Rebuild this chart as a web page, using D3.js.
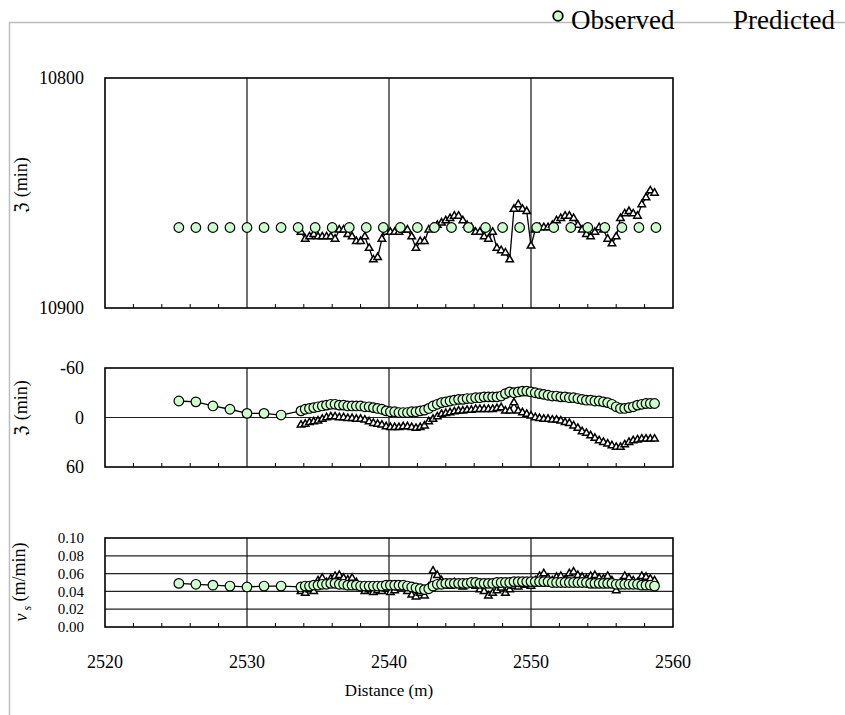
<!DOCTYPE html>
<html>
<head>
<meta charset="utf-8">
<script src="https://cdn.jsdelivr.net/npm/d3@7/dist/d3.min.js"></script>
<style>
  body { margin: 0; background: #fff; }
  svg text { font-family: "Liberation Serif", "Times New Roman", "DejaVu Serif", serif; fill: #000; }
</style>
</head>
<body>
<div class="container"></div>
<script>
// distances where the observed value was sampled sparsely (m)
var obsSparseX = [2525.2, 2526.4, 2527.6, 2528.8, 2530.0, 2531.2, 2532.4];
// panel 1 observed, sparse all the way along
var obs1X = [2525.2, 2526.4, 2527.6, 2528.8, 2530.0, 2531.2, 2532.4, 2533.6, 2534.8, 2536.0,
  2537.2, 2538.4, 2539.6, 2540.8, 2542.0, 2543.2, 2544.4, 2545.6, 2546.8, 2548.0,
  2549.2, 2550.4, 2551.6, 2552.8, 2554.0, 2555.2, 2556.4, 2557.6, 2558.8];
var obs1 = [10865, 10865, 10865, 10865, 10865, 10865, 10865, 10865, 10865, 10865,
  10865, 10865, 10865, 10865, 10865, 10865, 10865, 10865, 10865, 10865,
  10865, 10865, 10865, 10865, 10865, 10865, 10865, 10865, 10865];

// dense distances (m)
var denseX = [2533.8, 2534.1, 2534.4, 2534.7, 2535.0, 2535.3, 2535.6, 2535.9, 2536.2, 2536.5,
  2536.8, 2537.1, 2537.4, 2537.7, 2538.0, 2538.3, 2538.6, 2538.9, 2539.2, 2539.5,
  2539.8, 2540.1, 2540.4, 2540.7, 2541.0, 2541.3, 2541.6, 2541.9, 2542.2, 2542.5,
  2542.8, 2543.1, 2543.4, 2543.7, 2544.0, 2544.3, 2544.6, 2544.9, 2545.2, 2545.5,
  2545.8, 2546.1, 2546.4, 2546.7, 2547.0, 2547.3, 2547.6, 2547.9, 2548.2, 2548.5,
  2548.8, 2549.1, 2549.4, 2549.7, 2550.0, 2550.3, 2550.6, 2550.9, 2551.2, 2551.5,
  2551.8, 2552.1, 2552.4, 2552.7, 2553.0, 2553.3, 2553.6, 2553.9, 2554.2, 2554.5,
  2554.8, 2555.1, 2555.4, 2555.7, 2556.0, 2556.3, 2556.6, 2556.9, 2557.2, 2557.5,
  2557.8, 2558.1, 2558.4, 2558.7];

// panel 1 predicted (min)
var pred1 = [10867, 10870, 10869, 10868, 10869, 10869, 10869, 10869, 10870, 10866,
  10866, 10868, 10869, 10871, 10871, 10869, 10874, 10879, 10878, 10870,
  10867, 10867, 10867, 10867, 10866, 10866, 10869, 10874, 10871, 10871,
  10866, 10865, 10864, 10863, 10862, 10861, 10860, 10860, 10862, 10864,
  10865, 10867, 10867, 10869, 10870, 10867, 10874, 10875, 10876, 10879,
  10857, 10855, 10857, 10858, 10873, 10866, 10865, 10865, 10865, 10864,
  10862, 10861, 10860, 10860, 10861, 10864, 10866, 10868, 10869, 10867,
  10865, 10866, 10870, 10872, 10869, 10861, 10859, 10858, 10859, 10860,
  10855, 10852, 10849, 10850];

// panel 2 (min)
var obs2Sparse = [-20, -19, -14, -10, -5, -5, -3];
var obs2 = [-8, -10, -11, -12, -13, -14, -15, -16, -16, -15,
  -15, -14, -14, -14, -14, -13, -13, -12, -11, -10,
  -8, -7, -7, -6, -6, -6, -7, -7, -8, -9,
  -11, -14, -16, -18, -19, -20, -21, -22, -22, -23,
  -23, -24, -24, -25, -25, -25, -25, -26, -29, -31,
  -30, -31, -32, -32, -31, -30, -29, -28, -27, -26,
  -26, -25, -25, -24, -24, -23, -22, -21, -21, -20,
  -20, -19, -18, -16, -13, -11, -11, -12, -13, -15,
  -16, -17, -17, -17];
var pred2 = [9, 8, 6, 5, 4, 2, 0, -1, -1, 0,
  0, 1, 1, 2, 2, 3, 5, 7, 8, 9,
  11, 12, 12, 12, 11, 11, 12, 13, 12, 10,
  5, 2, -1, -4, -5, -6, -7, -8, -8, -9,
  -9, -10, -10, -10, -10, -10, -11, -12, -8, -8,
  -18, -8, -6, -4, -2, 0, 1, 2, 2, 3,
  3, 4, 6, 7, 10, 13, 17, 19, 22, 25,
  28, 30, 32, 34, 36, 36, 33, 30, 28, 27,
  26, 26, 26, 26];

// panel 3 (m/min)
var obs3Sparse = [0.049, 0.048, 0.047, 0.046, 0.045, 0.046, 0.046];
var obs3 = [0.045, 0.046, 0.046, 0.047, 0.047, 0.048, 0.048, 0.049, 0.049, 0.048,
  0.048, 0.047, 0.047, 0.047, 0.046, 0.046, 0.046, 0.046, 0.046, 0.046,
  0.047, 0.047, 0.047, 0.047, 0.047, 0.046, 0.045, 0.044, 0.043, 0.042,
  0.043, 0.046, 0.048, 0.048, 0.049, 0.049, 0.049, 0.049, 0.049, 0.049,
  0.050, 0.050, 0.049, 0.049, 0.049, 0.049, 0.050, 0.050, 0.050, 0.050,
  0.051, 0.051, 0.051, 0.051, 0.051, 0.051, 0.051, 0.051, 0.051, 0.050,
  0.050, 0.050, 0.050, 0.050, 0.050, 0.050, 0.050, 0.050, 0.049, 0.049,
  0.049, 0.049, 0.049, 0.049, 0.048, 0.048, 0.048, 0.048, 0.048, 0.048,
  0.047, 0.047, 0.047, 0.046];
var pred3 = [0.040, 0.038, 0.042, 0.040, 0.052, 0.055, 0.050, 0.054, 0.057, 0.058,
  0.055, 0.053, 0.055, 0.050, 0.045, 0.040, 0.042, 0.039, 0.041, 0.040,
  0.043, 0.039, 0.041, 0.044, 0.046, 0.040, 0.036, 0.034, 0.038, 0.035,
  0.045, 0.063, 0.058, 0.052, 0.048, 0.046, 0.050, 0.047, 0.045, 0.048,
  0.050, 0.046, 0.042, 0.040, 0.035, 0.038, 0.041, 0.044, 0.038, 0.042,
  0.046, 0.045, 0.048, 0.047, 0.046, 0.052, 0.057, 0.060, 0.055, 0.052,
  0.056, 0.057, 0.053, 0.060, 0.062, 0.058, 0.056, 0.054, 0.057, 0.058,
  0.055, 0.054, 0.057, 0.052, 0.041, 0.050, 0.057, 0.055, 0.052, 0.050,
  0.057, 0.056, 0.054, 0.052];

var xTicks = [2520, 2530, 2540, 2550, 2560];
var xMinorTicks = [2522, 2524, 2526, 2528, 2532, 2534, 2536, 2538, 2542, 2544,
  2546, 2548, 2552, 2554, 2556, 2558];
var y1Ticks = [10800, 10900];
var y2Ticks = [-60, 0, 60];
var y3Ticks = [0, 0.02, 0.04, 0.06, 0.08, 0.10];

const WIDTH = 845, HEIGHT = 715;
const PLOT_LEFT = 105, PLOT_RIGHT = 673;
const GREEN = "#ccffcc";
const FONT = '"Liberation Serif", "Times New Roman", "DejaVu Serif", serif';

var svg = d3.select(".container").append("svg")
  .attr("width", WIDTH)
  .attr("height", HEIGHT)
  .attr("font-family", FONT);

// outer (chart area) frame
svg.append("path")
  .attr("d", "M9.5," + HEIGHT + "V22.5H" + WIDTH)
  .attr("fill", "none")
  .attr("stroke", "#bdbdbd")
  .attr("stroke-width", 1.5);

var xScale = d3.scaleLinear().domain([2520, 2560]).range([PLOT_LEFT, PLOT_RIGHT]);

var tri = d3.symbol().type(d3.symbolTriangle).size(24);

var zip = function (xs, ys) {
  return xs.map(function (x, i) { return [x, ys[i]]; });
};

var drawPanel = function (opt) {
  var y = d3.scaleLinear().domain(opt.domain).range([opt.top, opt.bottom]);
  var g = svg.append("g");

  // horizontal grid lines
  g.selectAll(".hgrid").data(opt.hGrid).enter().append("line")
    .attr("x1", PLOT_LEFT).attr("x2", PLOT_RIGHT)
    .attr("y1", function (d) { return y(d); })
    .attr("y2", function (d) { return y(d); })
    .attr("stroke", "#222").attr("stroke-width", 1.2);

  // vertical grid lines
  g.selectAll(".vgrid").data([2530, 2540, 2550]).enter().append("line")
    .attr("x1", function (d) { return xScale(d); })
    .attr("x2", function (d) { return xScale(d); })
    .attr("y1", opt.top).attr("y2", opt.bottom)
    .attr("stroke", "#111").attr("stroke-width", 1.2);

  // minor ticks, pointing up from the bottom edge
  g.selectAll(".mtick").data(xMinorTicks).enter().append("line")
    .attr("x1", function (d) { return xScale(d); })
    .attr("x2", function (d) { return xScale(d); })
    .attr("y1", opt.bottom).attr("y2", opt.bottom - 4)
    .attr("stroke", "#000").attr("stroke-width", 1);

  // plot frame
  g.append("rect")
    .attr("x", PLOT_LEFT).attr("y", opt.top)
    .attr("width", PLOT_RIGHT - PLOT_LEFT).attr("height", opt.bottom - opt.top)
    .attr("fill", "none").attr("stroke", "#000").attr("stroke-width", 1.6);

  // y tick labels
  g.selectAll(".ylab").data(opt.ticks).enter().append("text")
    .attr("x", 84)
    .attr("y", function (d) { return y(d); })
    .attr("dy", "0.35em")
    .attr("text-anchor", "end")
    .style("font-size", opt.tickSize)
    .text(opt.format);

  // y axis title
  var title = g.append("text")
    .attr("transform", "translate(" + opt.titleX + "," + opt.titleY + ") rotate(-90)")
    .attr("text-anchor", "middle")
    .style("font-size", "18px");
  opt.title(title);

  var line = d3.line()
    .x(function (d) { return xScale(d[0]); })
    .y(function (d) { return y(d[1]); });

  // predicted
  var pred = zip(denseX, opt.pred);
  g.append("path").datum(pred)
    .attr("d", line)
    .attr("fill", "none").attr("stroke", "#000").attr("stroke-width", 1.3);
  g.selectAll(".pred").data(pred).enter().append("path")
    .attr("d", tri)
    .attr("transform", function (d) { return "translate(" + xScale(d[0]) + "," + y(d[1]) + ")"; })
    .attr("fill", "#fff").attr("stroke", "#000").attr("stroke-width", 1.5);

  // observed
  if (opt.obsLine) {
    g.append("path").datum(opt.obs)
      .attr("d", line)
      .attr("fill", "none").attr("stroke", "#000").attr("stroke-width", 1.3);
  }
  g.selectAll(".obs").data(opt.obs).enter().append("circle")
    .attr("cx", function (d) { return xScale(d[0]); })
    .attr("cy", function (d) { return y(d[1]); })
    .attr("r", 4.8)
    .attr("fill", GREEN).attr("stroke", "#000").attr("stroke-width", 1.2);
};

drawPanel({
  top: 78, bottom: 308, domain: [10800, 10900], ticks: y1Ticks, hGrid: [],
  format: function (d) { return d; }, tickSize: "18px",
  pred: pred1, obs: zip(obs1X, obs1), obsLine: false,
  titleX: 27, titleY: 185,
  title: function (t) { t.text("ℨ (min)"); }
});

drawPanel({
  top: 368, bottom: 467, domain: [-60, 60], ticks: y2Ticks, hGrid: [0],
  format: function (d) { return d; }, tickSize: "18px",
  pred: pred2, obs: zip(obsSparseX, obs2Sparse).concat(zip(denseX, obs2)), obsLine: true,
  titleX: 27, titleY: 408,
  title: function (t) { t.text("ℨ (min)"); }
});

drawPanel({
  top: 538, bottom: 627, domain: [0.10, 0], ticks: y3Ticks, hGrid: [0.02, 0.04, 0.06, 0.08],
  format: d3.format(".2f"), tickSize: "15px",
  pred: pred3, obs: zip(obsSparseX, obs3Sparse).concat(zip(denseX, obs3)), obsLine: true,
  titleX: 27, titleY: 582,
  title: function (t) {
    t.append("tspan").style("font-style", "italic").text("v");
    t.append("tspan").attr("dy", "0.3em").style("font-size", "12px").style("font-style", "italic").text(" s");
    t.append("tspan").attr("dy", "-0.3em").text("  (m/min)");
  }
});

// x tick labels
svg.selectAll(".xlab").data(xTicks).enter().append("text")
  .attr("x", function (d) { return xScale(d); })
  .attr("y", 668)
  .attr("text-anchor", "middle")
  .style("font-size", "18px")
  .text(function (d) { return d; });

svg.append("text")
  .attr("x", xScale(2540))
  .attr("y", 696)
  .attr("text-anchor", "middle")
  .style("font-size", "17px")
  .text("Distance (m)");

// legend
svg.append("circle")
  .attr("cx", 558).attr("cy", 16).attr("r", 4.8)
  .attr("fill", GREEN).attr("stroke", "#000").attr("stroke-width", 1.8);
svg.append("text").attr("x", 571).attr("y", 29)
  .style("font-size", "27px").text("Observed");
svg.append("text").attr("x", 733).attr("y", 29)
  .style("font-size", "27px").text("Predicted");
</script>
</body>
</html>
